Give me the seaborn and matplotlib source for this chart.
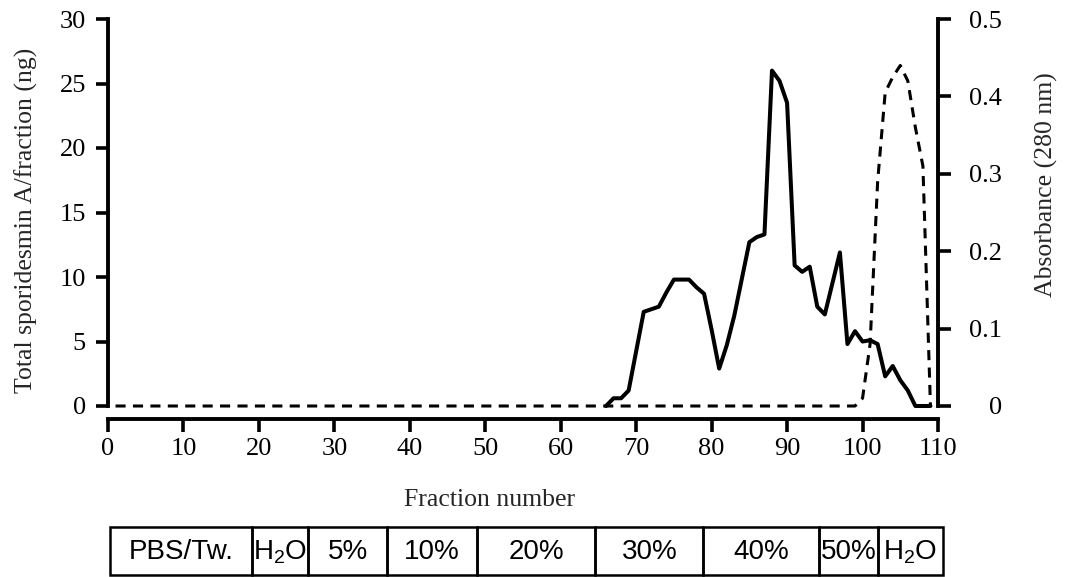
import matplotlib
matplotlib.use("Agg")
import matplotlib.pyplot as plt
from matplotlib.patches import Rectangle
import seaborn as sns

# Sporidesmin A recovered per fraction (ng)
sporidesmin_fraction = [66, 67, 68, 69, 71, 73, 74, 75, 77, 78, 79, 80, 81, 82,
                        83, 85, 86, 87, 88, 89, 90, 91, 92, 93, 94, 95, 97, 98, 99,
                        100, 101, 102, 103, 104, 105, 106, 107, 109]
sporidesmin_ng = [0, 0.6, 0.6, 1.2, 7.3, 7.7, 8.8, 9.8, 9.8, 9.2, 8.7, 5.9, 2.9, 4.7,
                  7.0, 12.7, 13.1, 13.3, 26.0, 25.2, 23.5, 10.9, 10.4, 10.8, 7.7, 7.1, 11.9, 4.8, 5.8,
                  5.0, 5.1, 4.8, 2.3, 3.1, 2.0, 1.2, 0, 0]

# Absorbance at 280 nm
absorbance_fraction = [1, 99, 100, 101, 102, 103, 104, 105, 106, 107, 108, 109]
absorbance_280 = [0, 0, 0.01, 0.08, 0.29, 0.405, 0.425, 0.44, 0.42, 0.36, 0.31, 0]

# Elution steps and the fraction ranges they cover
eluent_labels = ["PBS/Tw.", r"H$_\mathregular{2}$O", "5%", "10%", "20%", "30%",
                 "40%", "50%", r"H$_\mathregular{2}$O"]
eluent_edges = [0.3, 19.1, 26.5, 37.0, 48.9, 64.6, 78.9, 94.2, 102.1, 110.6]

left_ticks = [0, 5, 10, 15, 20, 25, 30]
right_ticks = [0, 0.1, 0.2, 0.3, 0.4, 0.5]
right_tick_labels = ["0", "0.1", "0.2", "0.3", "0.4", "0.5"]
x_ticks = list(range(0, 111, 10))

sns.set_style("ticks")
plt.rcParams["font.family"] = ["Liberation Serif", "DejaVu Serif"]
plt.rcParams["mathtext.fontset"] = "custom"
plt.rcParams["mathtext.rm"] = "Liberation Sans"
plt.rcParams["mathtext.it"] = "Liberation Sans"

W, H = 1067, 577
fig = plt.figure(figsize=(W / 100, H / 100), dpi=100)
ax = fig.add_axes([108 / W, 1 - 406 / H, 830 / W, 387 / H])

sns.lineplot(x=sporidesmin_fraction, y=sporidesmin_ng, ax=ax, color="black",
             linewidth=2.9, estimator=None, sort=False, clip_on=False)
ax.set_xlim(0, 110)
ax.set_ylim(0, 30)
ax.set_xticks(x_ticks)
ax.set_yticks(left_ticks)
for side in ("top", "right"):
    ax.spines[side].set_visible(False)
ax.spines["bottom"].set_position(("outward", 9))
for side in ("left", "bottom"):
    ax.spines[side].set_linewidth(2.8)
    ax.spines[side].set_color("black")
ax.tick_params(axis="both", direction="out", length=9, width=2.6, color="black",
               labelsize=19, labelcolor="black")
ax.tick_params(axis="y", pad=7)
ax.tick_params(axis="x", pad=5)
ax.set_xlabel("Fraction number", fontsize=18.5)
ax.set_ylabel("Total sporidesmin A/fraction (ng)", fontsize=18.5)
ax.xaxis.set_label_coords((490 - 108) / 830, -0.215)
ax.yaxis.set_label_coords((38 - 108) / 830, 0.48)

ax2 = ax.twinx()
sns.lineplot(x=absorbance_fraction, y=absorbance_280, ax=ax2, color="black",
             linewidth=2.2, linestyle=(0, (3.3, 2.4)), estimator=None, sort=False,
             clip_on=False)
ax2.set_ylim(0, 0.5)
ax2.set_yticks(right_ticks)
ax2.set_yticklabels(right_tick_labels)
for side in ("top", "left", "bottom"):
    ax2.spines[side].set_visible(False)
ax2.spines["right"].set_linewidth(2.8)
ax2.spines["right"].set_color("black")
ax2.tick_params(axis="y", direction="out", length=9, width=2.6, color="black",
                labelsize=19, labelcolor="black", pad=37)
for lab in ax2.get_yticklabels():
    lab.set_horizontalalignment("right")
ax2.set_ylabel("Absorbance (280 nm)", fontsize=18.5)
ax2.yaxis.set_label_coords((1035 - 108) / 830, (406 - 185) / 387)
ax2.set_xlabel("")

# Elution step strip beneath the axis
tab = fig.add_axes([108 / W, 1 - 575 / H, 830 / W, 48 / H])
tab.set_xlim(0, 110)
tab.set_ylim(0, 1)
tab.axis("off")
for lab, x0, x1 in zip(eluent_labels, eluent_edges[:-1], eluent_edges[1:]):
    tab.add_patch(Rectangle((x0, 0), x1 - x0, 1, fill=False, edgecolor="black",
                            linewidth=1.8, clip_on=False))
    tab.text((x0 + x1) / 2, 0.47, lab, ha="center", va="center", fontsize=20,
             family="Liberation Sans", color="black")

fig.savefig("out.png", dpi=100)
